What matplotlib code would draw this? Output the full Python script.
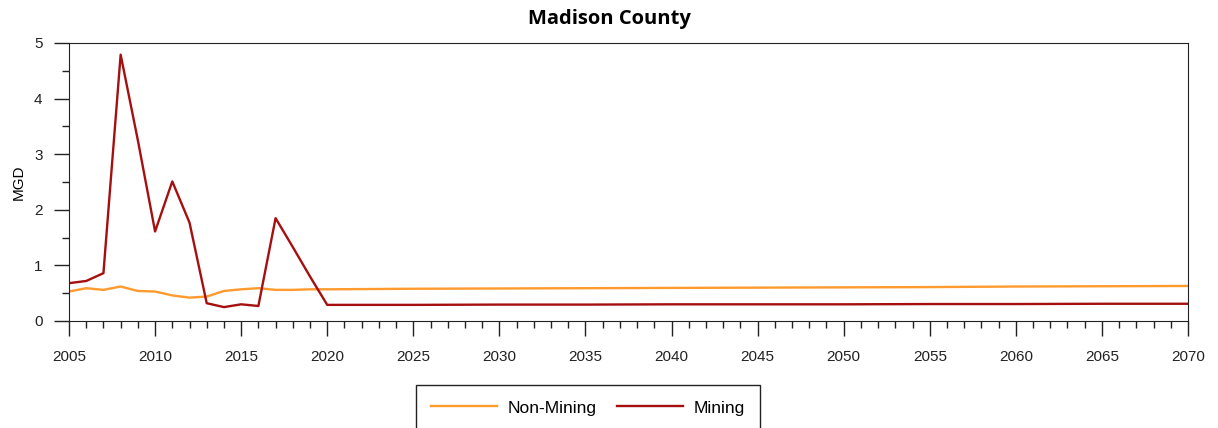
import matplotlib.pyplot as plt
from matplotlib.patches import Rectangle
from matplotlib.ticker import MultipleLocator

plt.rcParams["font.family"] = ["Liberation Sans", "DejaVu Sans"]

# Years and water use (MGD)
years = [2005, 2006, 2007, 2008, 2009, 2010, 2011, 2012, 2013, 2014, 2015,
         2016, 2017, 2018, 2019, 2020, 2025, 2030, 2035, 2040, 2045, 2050,
         2055, 2060, 2065, 2070]
non_mining = [0.53, 0.59, 0.56, 0.62, 0.54, 0.53, 0.46, 0.42, 0.44, 0.54, 0.57,
              0.59, 0.56, 0.56, 0.57, 0.57, 0.58, 0.585, 0.59, 0.595, 0.60, 0.605,
              0.61, 0.62, 0.625, 0.63]
mining = [0.68, 0.72, 0.86, 4.79, 3.25, 1.61, 2.51, 1.77, 0.32, 0.25, 0.30,
          0.27, 1.85, 1.33, 0.80, 0.29, 0.29, 0.295, 0.295, 0.30, 0.30, 0.30,
          0.305, 0.305, 0.31, 0.31]

series_names = ["Non-Mining", "Mining"]
series_colors = ["#FF9A2E", "#A50F0F"]

W, H = 1218, 428
fig = plt.figure(figsize=(W / 100, H / 100), dpi=100)
ax = fig.add_axes([69 / W, 1 - 321 / H, (1188 - 69) / W, (321 - 43) / H])

ax.plot(years, non_mining, color=series_colors[0], lw=1.7, label=series_names[0])
ax.plot(years, mining, color=series_colors[1], lw=1.7, label=series_names[1])

ax.set_xlim(2005, 2070)
ax.set_ylim(0, 5)
ax.xaxis.set_major_locator(MultipleLocator(5))
ax.xaxis.set_minor_locator(MultipleLocator(1))
ax.yaxis.set_major_locator(MultipleLocator(1))
ax.yaxis.set_minor_locator(MultipleLocator(0.5))
ax.tick_params(axis="both", which="major", direction="out", length=11, width=1,
               labelsize=11, colors="#222222")
ax.tick_params(axis="both", which="minor", direction="out", length=5, width=1,
               colors="#222222")
ax.tick_params(axis="x", which="major", pad=10)
ax.tick_params(axis="y", which="major", pad=8)
for side in ["left", "bottom", "top", "right"]:
    ax.spines[side].set_color("#222222")

ax.set_ylabel("MGD", fontsize=11, labelpad=6)
fig.suptitle("Madison County", x=0.5, y=1 - 19 / H, va="center", fontsize=14.5,
             fontweight="bold", family=["Open Sans", "DejaVu Sans"])

# legend box runs past the bottom edge of the image
fig.patches.append(Rectangle((416 / W, -0.1), (760 - 416) / W, 1 - 385 / H + 0.1,
                             transform=fig.transFigure, fill=False,
                             edgecolor="#222222", lw=1))
fig.legend(loc="center", bbox_to_anchor=(588 / W, 1 - 408 / H), ncol=2,
           frameon=False, fontsize=12.5, handlelength=3.8, columnspacing=1.15,
           handletextpad=0.65)

fig.savefig("out.png", dpi=100)
